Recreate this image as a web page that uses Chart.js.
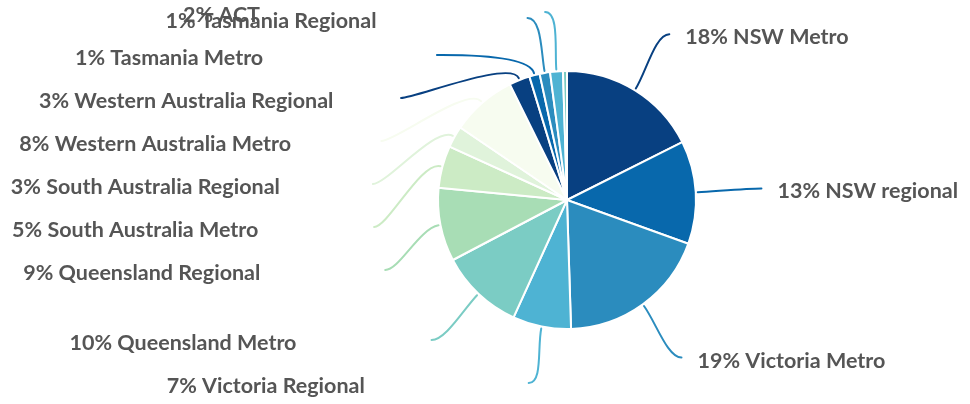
<!DOCTYPE html>
<html>
<head>
<meta charset="utf-8">
<script src="https://cdn.jsdelivr.net/npm/chart.js@4.4.1/dist/chart.umd.min.js"></script>
<style>
  html, body { margin: 0; padding: 0; background: #fff; }
  #wrap { width: 970px; height: 404px; }
</style>
</head>
<body>
<div id="wrap"><canvas id="pie"></canvas></div>
<script>
// slice order runs clockwise from 12 o'clock
const regions = [
  "NSW Metro", "NSW regional", "Victoria Metro", "Victoria Regional",
  "Queensland Metro", "Queensland Regional", "South Australia Metro",
  "South Australia Regional", "Western Australia Metro",
  "Western Australia Regional", "Tasmania Metro", "Tasmania Regional", "ACT", ""
];
const shares = [17.6, 12.9, 19.0, 7.3, 10.5, 9.2, 5.3, 2.7, 8.2, 2.6, 1.3, 1.3, 1.6, 0.5];
const shownPct = [18, 13, 19, 7, 10, 9, 5, 3, 8, 3, 1, 1, 2, null];
const colours = [
  "#084081", "#0868ac", "#2b8cbe", "#4eb3d3", "#7bccc4", "#a8ddb5", "#ccebc5",
  "#e0f3db", "#f7fcf0", "#084081", "#0868ac", "#2b8cbe", "#4eb3d3", "#7bccc4"
];

// outside labels with curved leader lines
const outLabels = {
  id: "outLabels",
  afterDatasetsDraw(chart) {
    const ctx = chart.ctx;
    const arcs = chart.getDatasetMeta(0).data;
    const gap = 43, yTop = 12, yBottom = chart.height - 21, capGap = 6;
    const box = 346;
    let cx = 0, cy = 0, r = 0;
    const items = [];
    arcs.forEach((a, i) => {
      cx = a.x; cy = a.y; r = a.outerRadius;
      if (shownPct[i] == null) return;
      const mid = (a.startAngle + a.endAngle) / 2;
      items.push({ i, ux: Math.cos(mid), uy: Math.sin(mid) });
    });
    const R = r * 1.51;
    items.forEach(it => {
      it.side = it.ux >= 0 ? 1 : -1;
      it.nx = cx + R * it.ux;
      it.ny = cy + R * it.uy;
      it.cap = it.uy < 0 && Math.abs(it.ux) < Math.sin(12 * Math.PI / 180);
    });

    [1, -1].forEach(side => {
      const cap = items.filter(t => t.side === side && t.cap).sort((a, b) => a.ny - b.ny);
      const rest = items.filter(t => t.side === side && !t.cap).sort((a, b) => a.ny - b.ny);
      let prev = null;
      cap.forEach(t => {
        t.y = prev == null ? Math.max(t.ny, yTop) : Math.max(t.ny, prev + capGap);
        t.x = t.nx - 6;
        prev = t.y;
      });
      const yMin = cap.length ? yTop + gap : yTop;
      prev = null;
      rest.forEach(t => {
        const lim = prev == null ? yMin : prev + gap;
        t.pushed = t.ny < lim && (prev != null || cap.length > 0);
        t.y = Math.max(t.ny, lim);
        prev = t.y;
      });
      for (let k = rest.length - 1; k >= 0; k--) {
        const lim = k === rest.length - 1 ? yBottom : rest[k + 1].y - gap;
        if (rest[k].y > lim) {
          if (k !== rest.length - 1) rest[k].pushed = true;
          rest[k].y = lim;
        }
      }
      rest.forEach(t => {
        const dy = t.y - cy;
        t.x = t.pushed && Math.abs(dy) < R ? cx + side * Math.sqrt(R * R - dy * dy) : t.nx;
      });
    });

    ctx.save();
    ctx.lineWidth = 2;
    ctx.lineCap = "round";
    items.forEach(t => {
      const x0 = cx + (r + 2) * t.ux, y0 = cy + (r + 2) * t.uy;
      const x1 = cx + (r + 22) * t.ux, y1 = cy + (r + 22) * t.uy;
      ctx.strokeStyle = colours[t.i];
      ctx.beginPath();
      ctx.moveTo(x0, y0);
      ctx.bezierCurveTo(x1, y1, t.x - t.side * 14, t.y, t.x, t.y);
      ctx.stroke();
    });
    ctx.fillStyle = "#555555";
    ctx.font = "bold 21.5px Lato";
    ctx.textAlign = "left";
    ctx.textBaseline = "middle";
    items.forEach(t => {
      const txt = shownPct[t.i] + "% " + regions[t.i];
      const tx = t.side > 0 ? t.x + 16 : t.x - 16 - box;
      ctx.fillText(txt, tx, t.y + 3);
    });
    ctx.restore();
  }
};

new Chart(document.getElementById("pie"), {
  type: "pie",
  data: {
    labels: regions,
    datasets: [{
      data: shares,
      backgroundColor: colours,
      borderColor: "#ffffff",
      borderWidth: 2
    }]
  },
  options: {
    responsive: true,
    maintainAspectRatio: false,
    animation: false,
    layout: { padding: { top: 70, bottom: 74, left: 437, right: 273 } },
    plugins: {
      legend: { display: false },
      tooltip: { enabled: false }
    }
  },
  plugins: [outLabels]
});
</script>
</body>
</html>
